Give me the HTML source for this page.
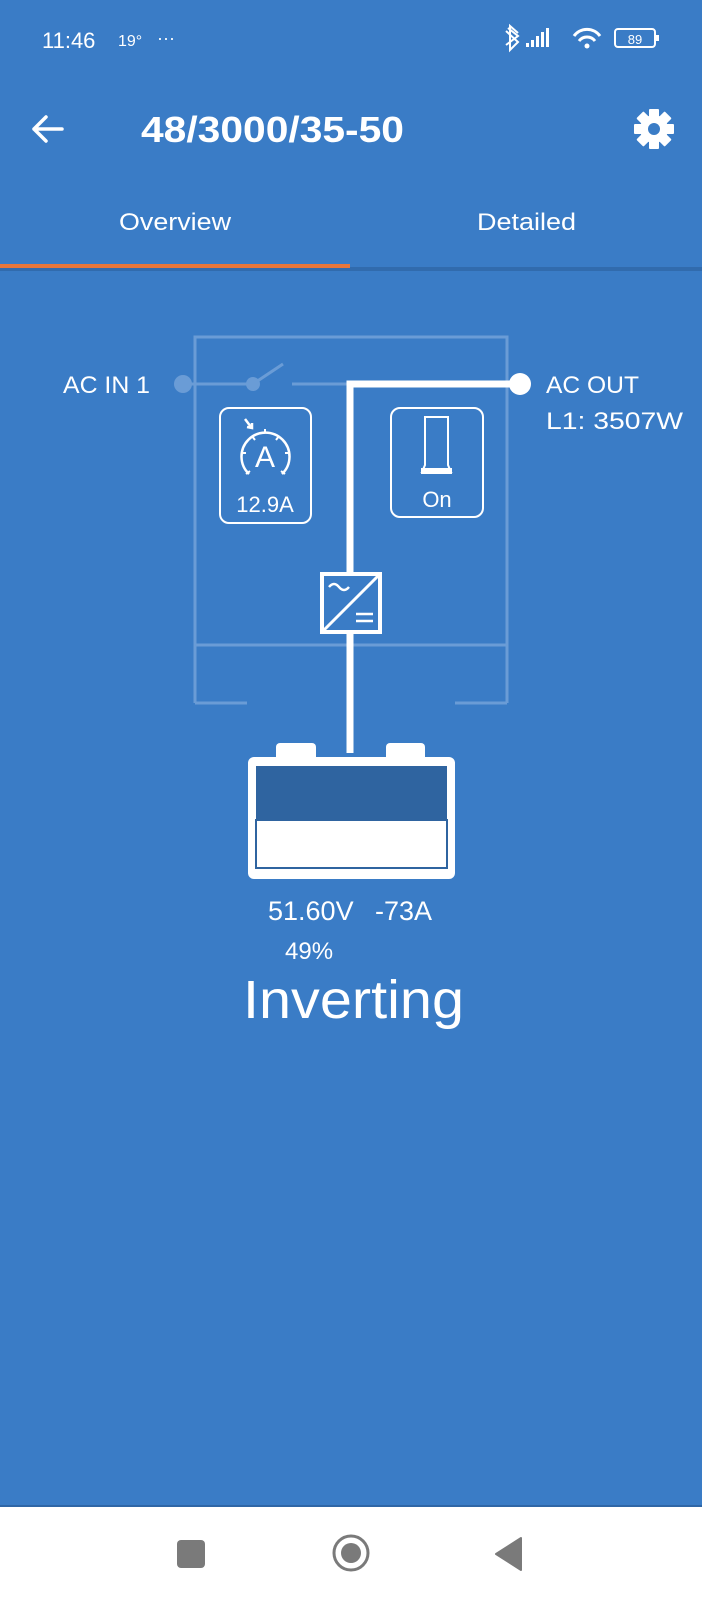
<!DOCTYPE html>
<html><head><meta charset="utf-8"><style>
html,body{margin:0;padding:0;background:#3a7cc6;}
svg{display:block;}
text{font-family:"Liberation Sans",sans-serif;fill:#fff;}
</style></head><body>
<svg width="702" height="1600" viewBox="0 0 702 1600" xmlns="http://www.w3.org/2000/svg">
<rect width="702" height="1600" fill="#3a7cc6"/>
<!-- status bar -->
<text x="42" y="48" font-size="22">11:46</text>
<text x="118" y="46" font-size="16">19°</text>
<text x="157" y="44" font-size="18">···</text>
<path d="M508 28 L518 36 L506 45 M506 31 L518 42 L510 50 L510 26 L518 33" stroke="#fff" stroke-width="2" fill="none"/>
<rect x="526" y="43" width="3" height="4" fill="#fff"/><rect x="531" y="40" width="3" height="7" fill="#fff"/><rect x="536" y="36" width="3" height="11" fill="#fff"/><rect x="541" y="32" width="3" height="15" fill="#fff"/><rect x="546" y="28" width="3" height="19" fill="#fff"/>
<path d="M574 36 A 16 16 0 0 1 600 36" stroke="#fff" stroke-width="3" fill="none"/>
<path d="M579 41 A 10 10 0 0 1 595 41" stroke="#fff" stroke-width="3" fill="none"/>
<circle cx="587" cy="46" r="2.5" fill="#fff"/>
<rect x="615" y="29" width="40" height="18" rx="3" fill="none" stroke="#fff" stroke-width="2"/>
<rect x="656" y="35" width="3" height="6" fill="#fff"/>
<text x="635" y="44" font-size="13" text-anchor="middle">89</text>
<!-- app bar -->
<path d="M34 129 H62 M34 129 L46 117 M34 129 L46 141" stroke="#fff" stroke-width="3.5" fill="none" stroke-linecap="round"/>
<text x="141" y="142" font-size="36" font-weight="bold" textLength="263" lengthAdjust="spacingAndGlyphs">48/3000/35-50</text>
<g transform="translate(654,129)" fill="#fff">
<circle r="14"/>
<g id="t"><rect x="-5" y="-20" width="10" height="10" rx="1"/></g>
<use href="#t" transform="rotate(45)"/><use href="#t" transform="rotate(90)"/><use href="#t" transform="rotate(135)"/><use href="#t" transform="rotate(180)"/><use href="#t" transform="rotate(225)"/><use href="#t" transform="rotate(270)"/><use href="#t" transform="rotate(315)"/>
<circle r="6" fill="#3a7cc6"/>
</g>
<!-- tabs -->
<text x="119" y="230" font-size="24" textLength="112" lengthAdjust="spacingAndGlyphs">Overview</text>
<text x="477" y="230" font-size="24" textLength="99" lengthAdjust="spacingAndGlyphs">Detailed</text>
<rect x="0" y="267" width="702" height="4" fill="#2f66a6" opacity="0.8"/>
<rect x="0" y="264" width="350" height="4" fill="#e8763a"/>
<!-- faint frame -->
<g stroke="#6a9cd6" stroke-width="3" fill="none">
<path d="M195 703 V337 H507 V703"/>
<path d="M195 703 H247 M455 703 H507"/>
<path d="M195 645 H507"/>
<path d="M183 384 H253 L283 364 M292 384 H348"/>
</g>
<circle cx="183" cy="384" r="9" fill="#6a9cd6"/>
<circle cx="253" cy="384" r="7" fill="#6a9cd6"/>
<!-- main line -->
<path d="M350 753 V384 H520" stroke="#fff" stroke-width="7" fill="none"/>
<circle cx="520" cy="384" r="11" fill="#fff"/>
<text x="63" y="393" font-size="24" textLength="87" lengthAdjust="spacingAndGlyphs">AC IN 1</text>
<text x="546" y="393" font-size="24" textLength="93" lengthAdjust="spacingAndGlyphs">AC OUT</text>
<text x="546" y="429" font-size="24" textLength="137" lengthAdjust="spacingAndGlyphs">L1: 3507W</text>
<!-- A box -->
<rect x="220" y="408" width="91" height="115" rx="9" fill="#3a7cc6" stroke="#fff" stroke-width="2"/>
<path d="M249 474 A 24 24 0 1 1 282 474" stroke="#fff" stroke-width="2.5" fill="none"/>
<path d="M246 474 l4 -3 M285 474 l-4 -3 M241 453 h5 M290 453 h-5 M252 436 l3 4 M279 436 l-3 4 M265 429 v4" stroke="#fff" stroke-width="2"/>
<text x="265" y="467" font-size="30" text-anchor="middle">A</text>
<path d="M245 419 L251 427 M247 427 L252 428 L252 423" stroke="#fff" stroke-width="2.5" fill="none"/>
<text x="265" y="512" font-size="22" text-anchor="middle">12.9A</text>
<!-- On box -->
<rect x="391" y="408" width="92" height="109" rx="9" fill="#3a7cc6" stroke="#fff" stroke-width="2"/>
<path d="M425 417 H448 V465 L451 472 H422 L425 465 Z" stroke="#fff" stroke-width="2" fill="none"/>
<rect x="421" y="468" width="31" height="6" fill="#fff"/>
<text x="437" y="507" font-size="22" text-anchor="middle">On</text>
<!-- converter -->
<rect x="322" y="574" width="58" height="58" fill="#3a7cc6" stroke="#fff" stroke-width="4"/>
<path d="M322 632 L380 574" stroke="#fff" stroke-width="3"/>
<path d="M329 587 q5 -6 10 0 t10 0" stroke="#fff" stroke-width="2.5" fill="none"/>
<path d="M356 614 H373 M356 621 H373" stroke="#fff" stroke-width="2.5"/>
<!-- battery -->
<rect x="276" y="743" width="40" height="18" rx="4" fill="#fff"/>
<rect x="386" y="743" width="39" height="18" rx="4" fill="#fff"/>
<rect x="248" y="757" width="207" height="122" rx="6" fill="#fff"/>
<rect x="256" y="766" width="191" height="54" fill="#2f64a0"/>
<rect x="256" y="820" width="191" height="48" fill="#fff" stroke="#2f64a0" stroke-width="2"/>
<text x="268" y="920" font-size="27">51.60V</text>
<text x="375" y="920" font-size="27">-73A</text>
<text x="285" y="959" font-size="24">49%</text>
<text x="243" y="1018" font-size="54" textLength="221" lengthAdjust="spacingAndGlyphs">Inverting</text>
<!-- nav bar -->
<rect x="0" y="1505" width="702" height="3" fill="#2f66a6"/>
<rect x="0" y="1507" width="702" height="93" fill="#fff"/>
<rect x="177" y="1540" width="28" height="28" rx="4" fill="#7a7a7a"/>
<circle cx="351" cy="1553" r="17" fill="none" stroke="#7a7a7a" stroke-width="3"/>
<circle cx="351" cy="1553" r="10" fill="#7a7a7a"/>
<path d="M521 1538 V1570 L496 1554 Z" fill="#7a7a7a" stroke="#7a7a7a" stroke-linejoin="round" stroke-width="2"/>
</svg>
</body></html>
